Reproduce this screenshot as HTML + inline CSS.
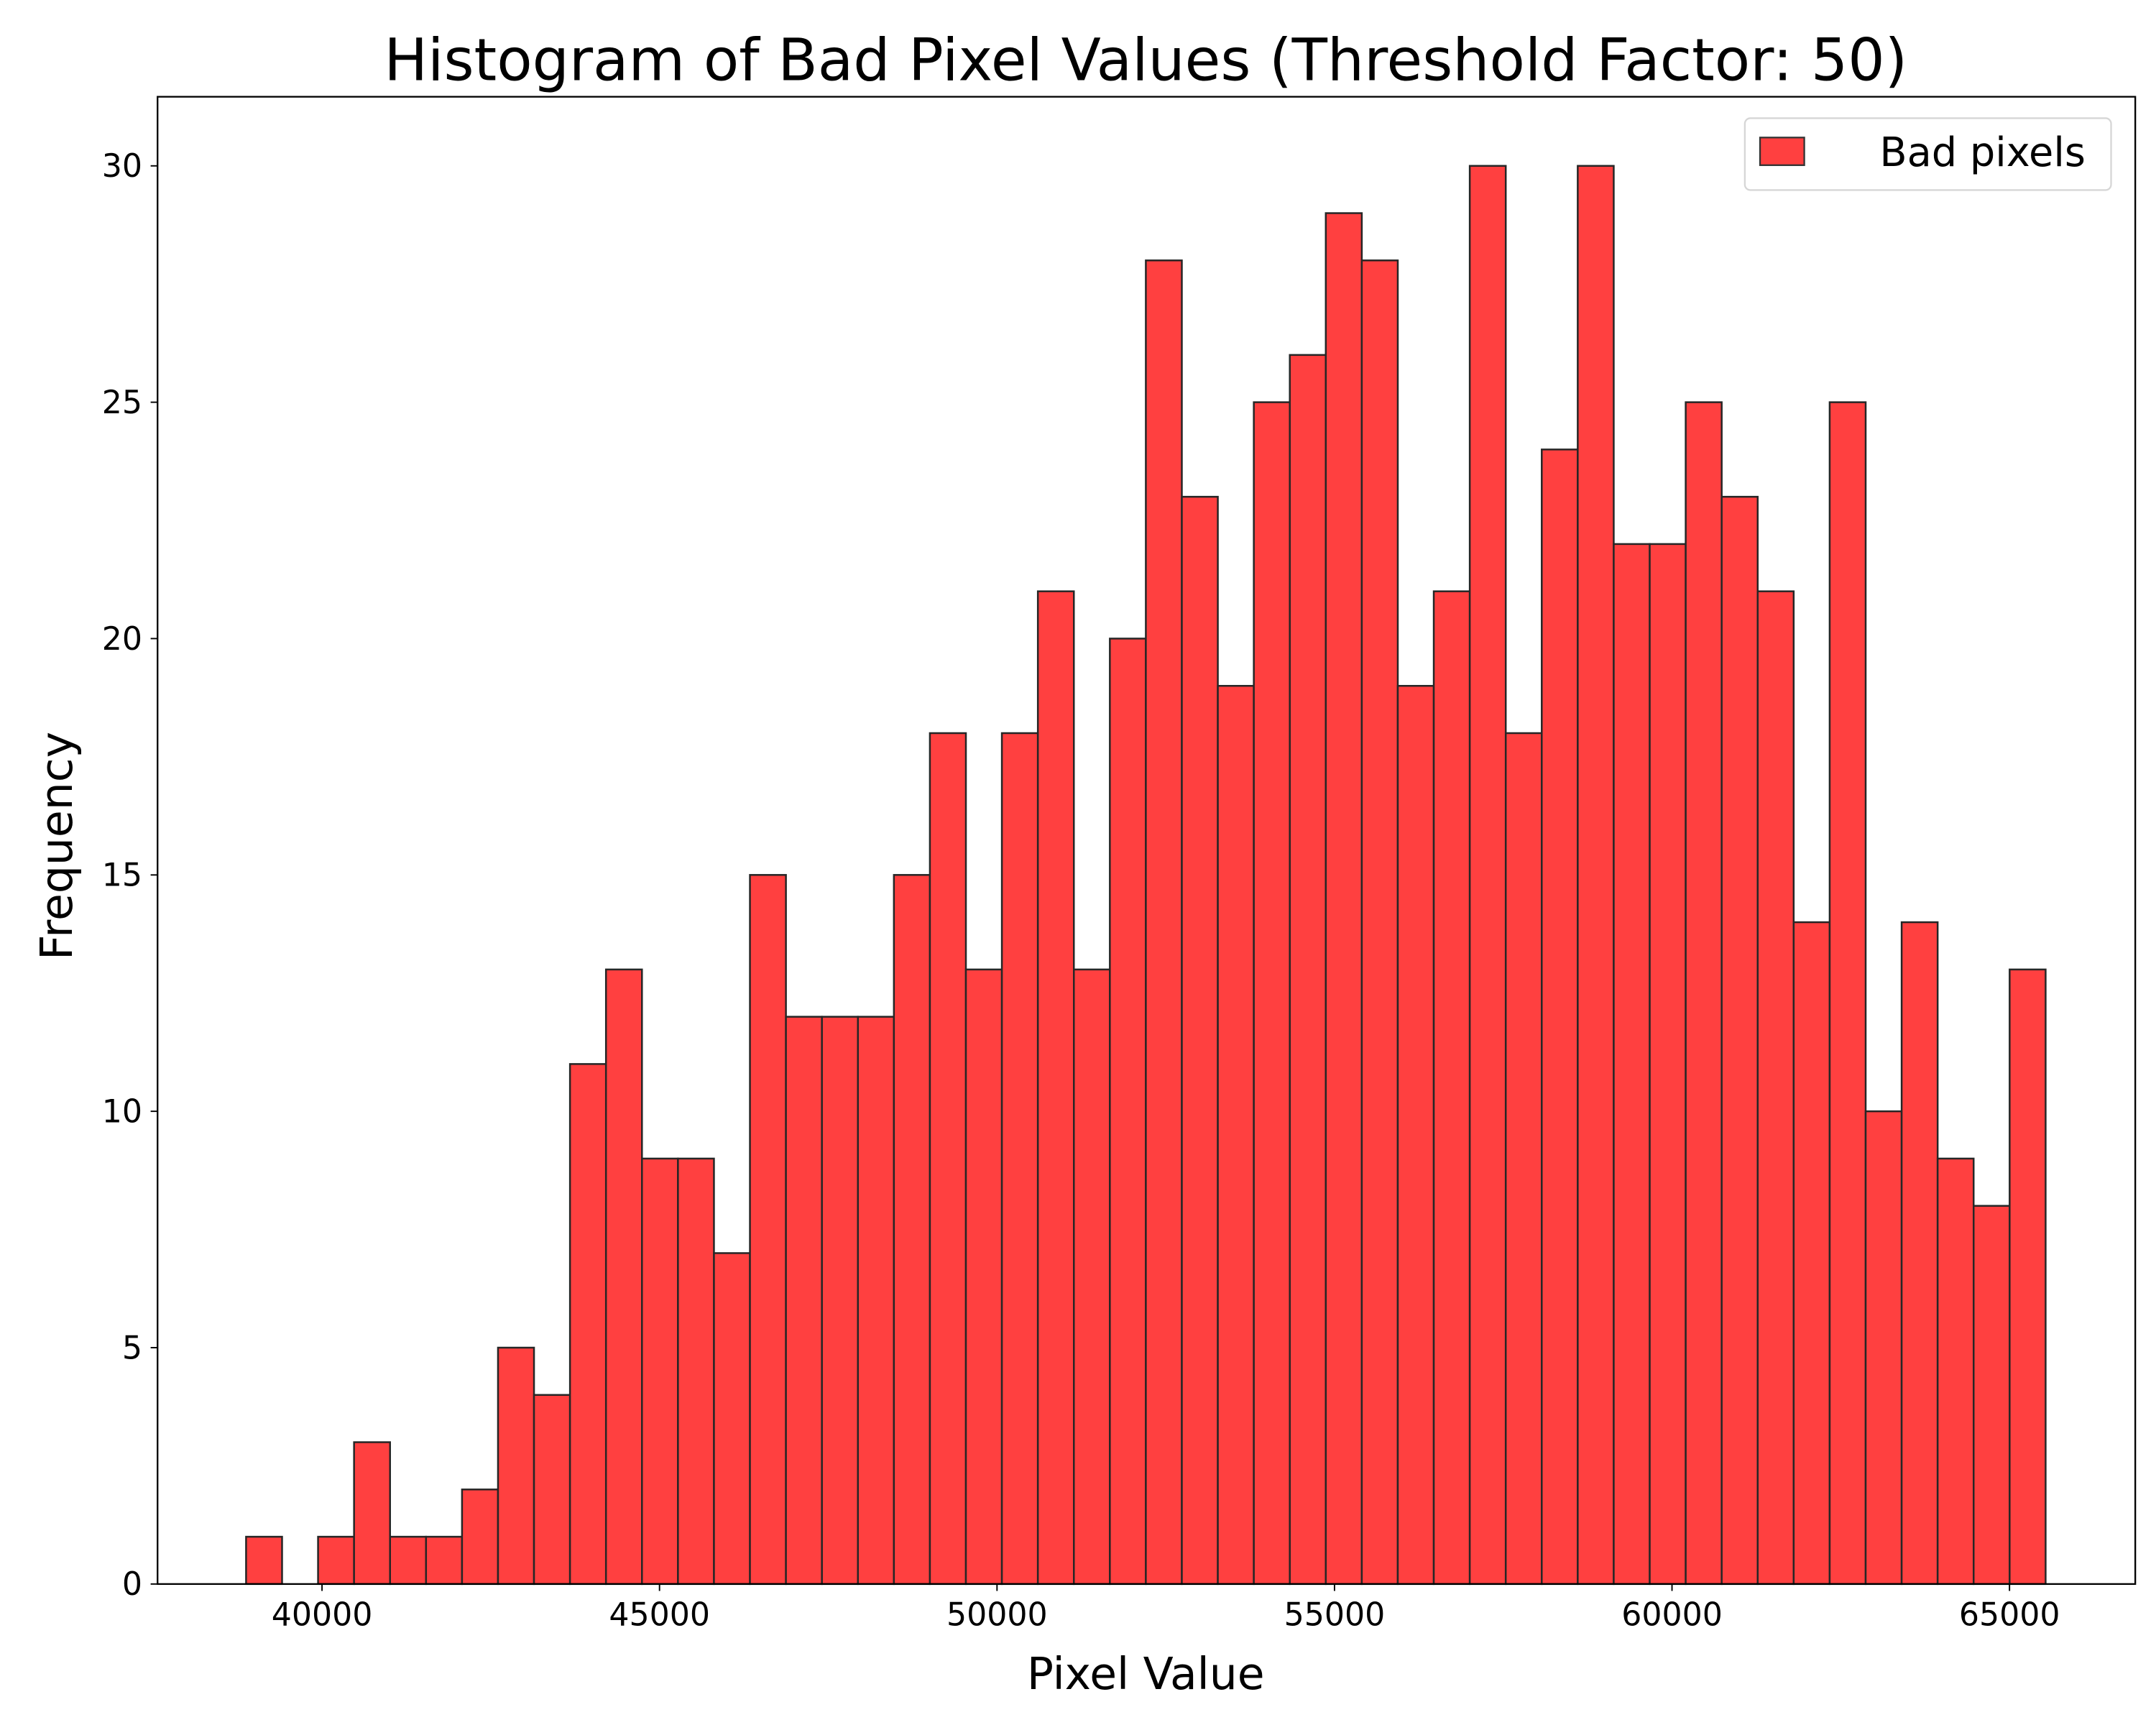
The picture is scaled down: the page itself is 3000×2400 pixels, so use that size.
<!DOCTYPE html>
<html><head><meta charset="utf-8"><style>
html,body{margin:0;padding:0;background:#fff}
svg{display:block}
text{font-family:"DejaVu Sans","Liberation Sans",sans-serif;fill:#000}
</style></head><body>
<svg id="chart" width="3000" height="2400" viewBox="0 0 1560 1248" xmlns="http://www.w3.org/2000/svg">
<rect width="1560" height="1248" fill="#fff"/>
<text x="829" y="58" font-size="42" text-anchor="middle">Histogram of Bad Pixel Values (Threshold Factor: 50)</text>
<g id="bars"></g>
<g id="axes"></g>
<text x="829" y="1222" font-size="32" text-anchor="middle">Pixel Value</text>
<text x="0" y="0" font-size="32" text-anchor="middle" transform="translate(52,612) rotate(-90)">Frequency</text>
<g>
<rect x="1262.5" y="85.5" width="265" height="52" rx="4" fill="#fff" stroke="#d6d6d6" stroke-width="1.2"/>
<rect x="1273.5" y="99.5" width="32" height="20" fill="#ff4040" stroke="#333" stroke-width="1.2"/>
<text x="1360" y="120" font-size="29">Bad pixels</text>
</g>
</svg>
<script>
const counts = [1,0,1,3,1,1,2,5,4,11,13,9,9,7,15,12,12,12,15,18,13,18,21,13,20,28,23,19,25,26,29,28,19,21,30,18,24,30,22,22,25,23,21,14,25,10,14,9,8,13];
const binMin = 38875;
const binMax = 65535;
const xTicks = [40000,45000,50000,55000,60000,65000];
const yTicks = [0,5,10,15,20,25,30];

const NS = "http://www.w3.org/2000/svg";
const L = 114, R = 1545, T = 70, B = 1146;
function xs(v){ return 233 + (v - 40000) / 5000 * 244.2; }
function ys(v){ return B - v * 34.2; }
function mk(tag, attrs, parent){ const e = document.createElementNS(NS, tag); for (const k in attrs) e.setAttribute(k, attrs[k]); parent.appendChild(e); return e; }

const bars = document.getElementById('bars');
const bw = (binMax - binMin) / counts.length;
counts.forEach((c, i) => {
  const x0 = xs(binMin + i * bw), x1 = xs(binMin + (i + 1) * bw);
  const r = mk('rect', {x: x0, y: ys(c), width: x1 - x0, height: B - ys(c), fill: '#ff4040', stroke: '#262626', 'stroke-width': 1.3}, bars);
  
  
});

const ax = document.getElementById('axes');
const frame = mk('rect', {x: L, y: T, width: R - L, height: B - T, fill: 'none', stroke: '#000', 'stroke-width': 1.2}, ax);


xTicks.forEach(v => {
  const x = xs(v);
  mk('line', {x1: x, x2: x, y1: B, y2: B + 5, stroke: '#000', 'stroke-width': 1}, ax);
  const t = mk('text', {x: x, y: B + 30, 'font-size': 23, 'text-anchor': 'middle'}, ax);
  t.textContent = v;
  
  
});
yTicks.forEach(v => {
  const y = ys(v);
  mk('line', {x1: L - 5, x2: L, y1: y, y2: y, stroke: '#000', 'stroke-width': 1}, ax);
  const t = mk('text', {x: L - 11, y: y + 8, 'font-size': 23, 'text-anchor': 'end'}, ax);
  t.textContent = v;
  
  
});
</script>
</body></html>
